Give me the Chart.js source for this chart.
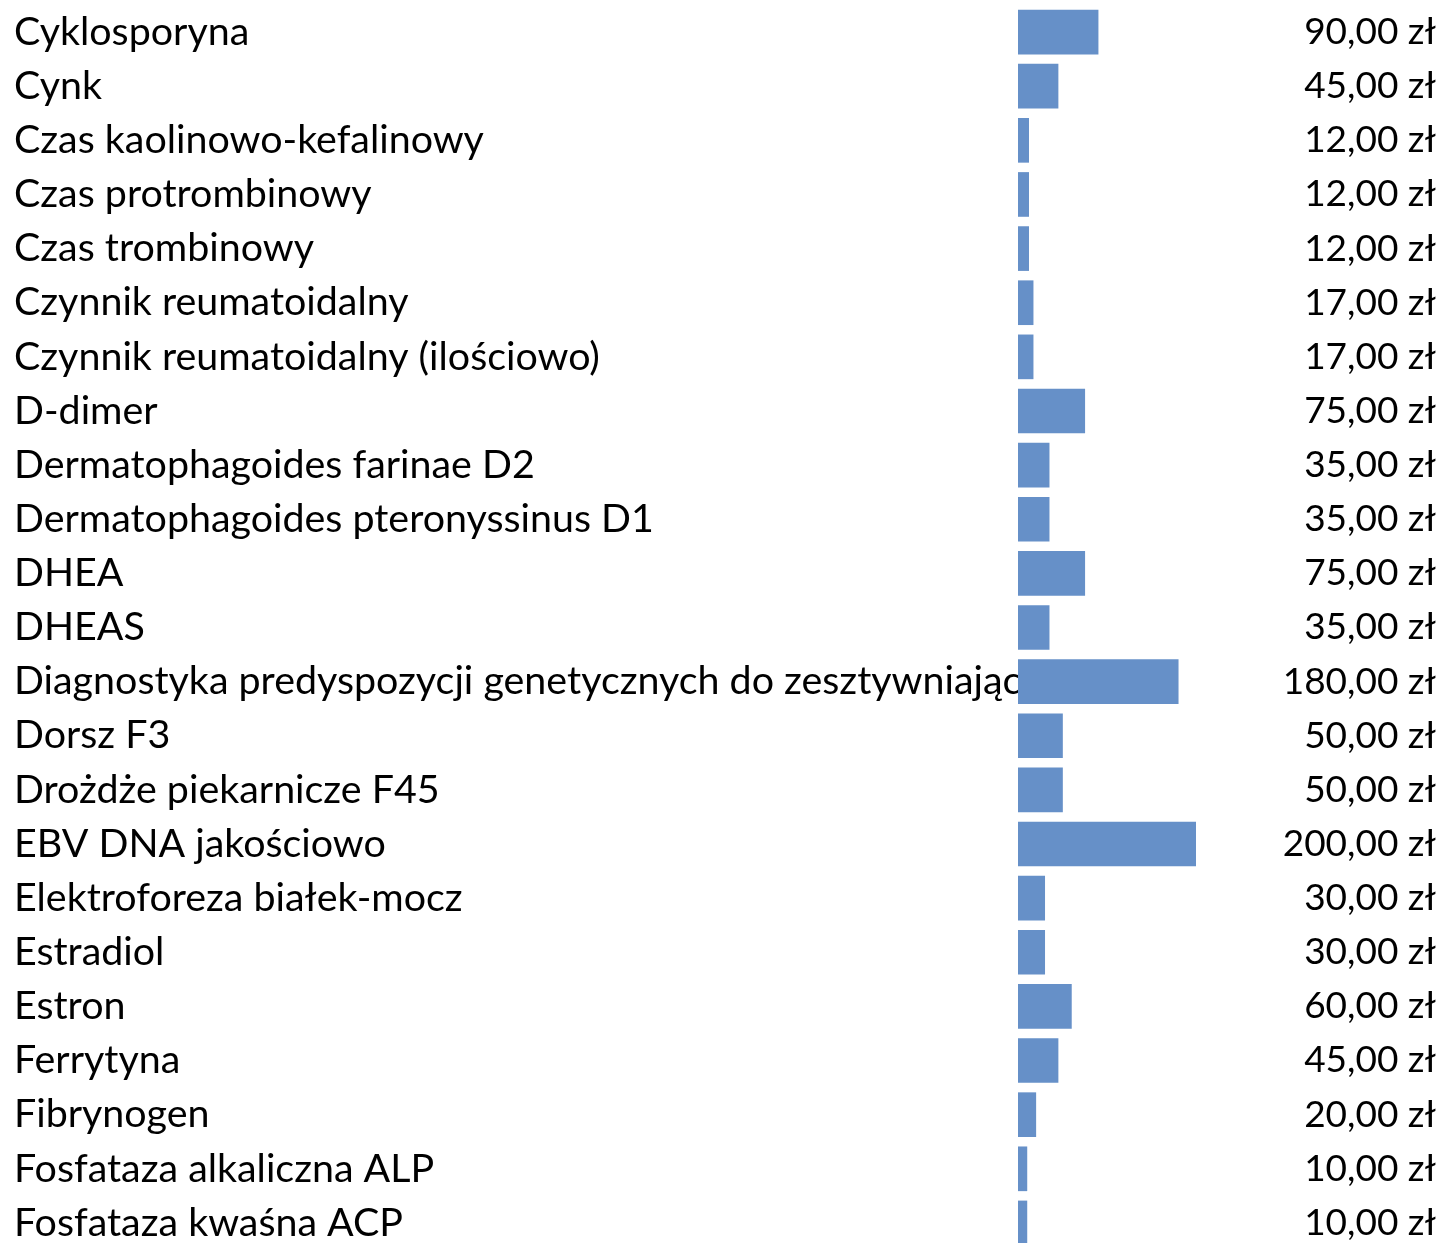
<!DOCTYPE html>
<html lang="pl">
<head>
<meta charset="utf-8">
<title>Cennik badań</title>
<script src="https://cdn.jsdelivr.net/npm/chart.js@4/dist/chart.umd.min.js"></script>
<style>
  html, body { margin: 0; padding: 0; background: #fff; overflow: hidden; }
  #wrap { width: 1445px; height: 1250px; }
</style>
</head>
<body>
<div id="wrap"><canvas id="chart" width="1445" height="1250"></canvas></div>
<script>
const categories = [
  "Cyklosporyna",
  "Cynk",
  "Czas kaolinowo-kefalinowy",
  "Czas protrombinowy",
  "Czas trombinowy",
  "Czynnik reumatoidalny",
  "Czynnik reumatoidalny (ilościowo)",
  "D-dimer",
  "Dermatophagoides farinae D2",
  "Dermatophagoides pteronyssinus D1",
  "DHEA",
  "DHEAS",
  "Diagnostyka predyspozycji genetycznych do zesztywniającego zapalenia stawów kręgosłupa",
  "Dorsz F3",
  "Drożdże piekarnicze F45",
  "EBV DNA jakościowo",
  "Elektroforeza białek-mocz",
  "Estradiol",
  "Estron",
  "Ferrytyna",
  "Fibrynogen",
  "Fosfataza alkaliczna ALP",
  "Fosfataza kwaśna ACP"
];
const prices = [90, 45, 12, 12, 12, 17, 17, 75, 35, 35, 75, 35, 180, 50, 50, 200, 30, 30, 60, 45, 20, 10, 10];

const FONT = "Lato, 'Open Sans', sans-serif";
const LABEL_SIZE = 39.4;
const VALUE_SIZE = 37;
const LABEL_MAX = 1012; // text running into the bar column gets covered by the bars

const measure = document.createElement("canvas").getContext("2d");
measure.font = LABEL_SIZE + "px " + FONT;

function fitLabel(text) {
  let s = text;
  while (s.length && measure.measureText(s).width > LABEL_MAX) s = s.slice(0, -1);
  return s;
}

function zl(v) {
  return v.toFixed(2).replace(".", ",") + " zł";
}

// no extra room above/below for tick labels
function noPad(s, w) {
  s.width = w;
  s.paddingTop = 0;
  s.paddingBottom = 0;
}

const ctx = document.getElementById("chart");
new Chart(ctx, {
  type: "bar",
  data: {
    labels: categories,
    datasets: [
      {
        data: prices,
        backgroundColor: "#6690c8",
        borderWidth: 0,
        barThickness: 44
      }
    ]
  },
  options: {
    indexAxis: "y",
    responsive: false,
    animation: false,
    layout: { padding: { left: 14, right: 9, top: 5, bottom: 0 } },
    plugins: { legend: { display: false }, tooltip: { enabled: false } },
    scales: {
      x: { display: false, min: 0, max: 200 },
      y: {
        position: "left",
        offset: true,
        grid: { display: false },
        border: { display: false },
        afterFit: s => noPad(s, 1004),
        ticks: {
          autoSkip: false,
          crossAlign: "far",
          color: "#000",
          font: { family: FONT, size: LABEL_SIZE, lineHeight: 0.2 },
          callback: function (value) {
            return fitLabel(this.getLabelForValue(value));
          }
        }
      },
      y2: {
        type: "category",
        position: "right",
        offset: true,
        grid: { display: false },
        border: { display: false },
        afterFit: s => noPad(s, 240),
        ticks: {
          autoSkip: false,
          crossAlign: "far",
          color: "#000",
          font: { family: FONT, size: VALUE_SIZE, lineHeight: 0.2 },
          callback: (value, i) => zl(prices[i])
        }
      }
    }
  }
});
</script>
</body>
</html>
